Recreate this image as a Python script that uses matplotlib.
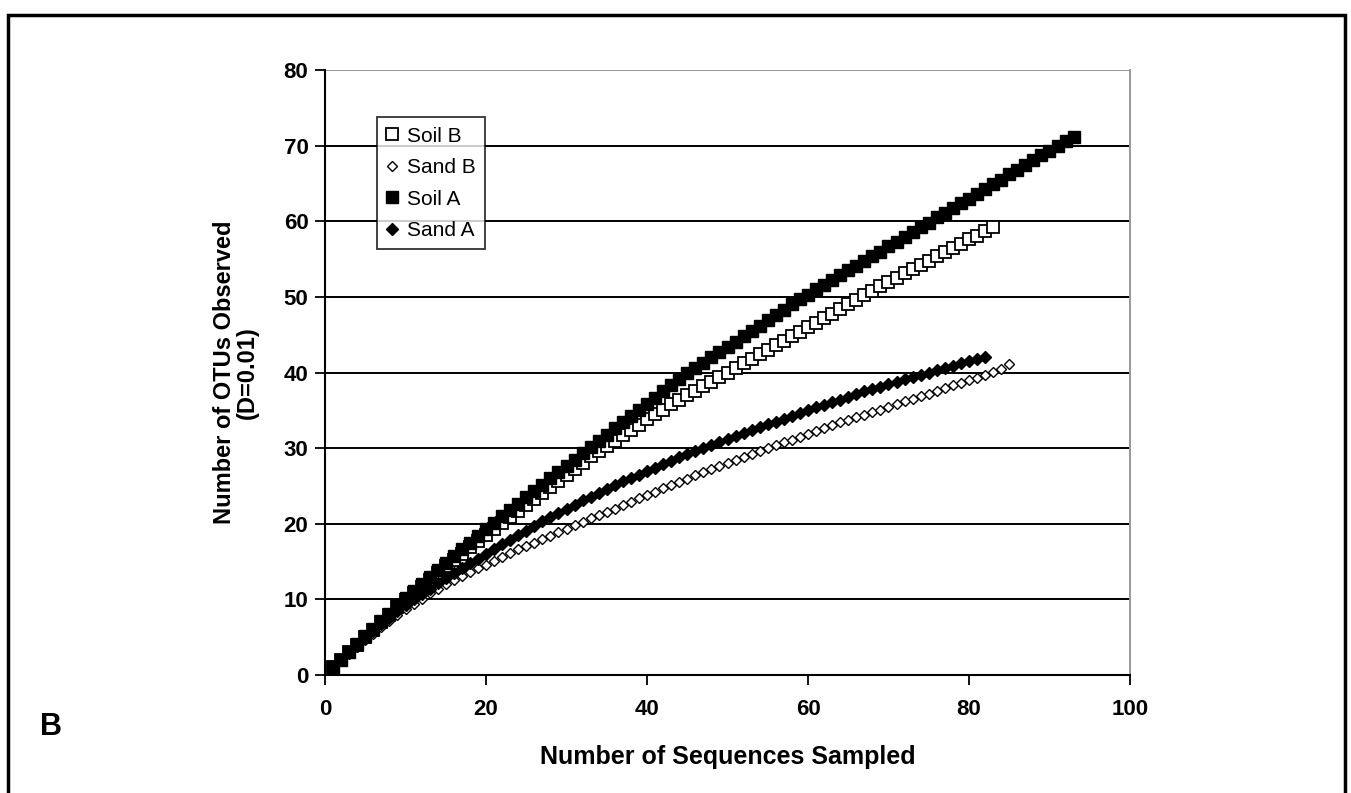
import matplotlib
matplotlib.use('Agg')
import matplotlib.pyplot as plt
from matplotlib.patches import Rectangle

plt.rcParams['font.family'] = ['Liberation Sans', 'DejaVu Sans']

soil_a = [1.0, 2.0, 3.0, 4.1, 5.1, 6.1, 7.1, 8.1, 9.2, 10.2,
          11.1, 12.0, 13.0, 13.9, 14.8, 15.7, 16.6, 17.5, 18.4, 19.3,
          20.1, 21.0, 21.8, 22.6, 23.5, 24.3, 25.1, 26.0, 26.8, 27.6,
          28.4, 29.3, 30.1, 30.9, 31.7, 32.6, 33.4, 34.2, 35.0, 35.8,
          36.6, 37.5, 38.3, 39.1, 39.9, 40.6, 41.3, 42.0, 42.7, 43.4,
          44.1, 44.8, 45.5, 46.2, 46.9, 47.6, 48.3, 49.0, 49.7, 50.3,
          51.0, 51.6, 52.2, 52.9, 53.5, 54.1, 54.8, 55.4, 56.0, 56.7,
          57.3, 57.9, 58.6, 59.2, 59.8, 60.5, 61.1, 61.7, 62.4, 63.0,
          63.6, 64.3, 64.9, 65.5, 66.2, 66.8, 67.4, 68.1, 68.7, 69.3,
          70.0, 70.6, 71.2]
soil_b = [1.0, 2.0, 3.0, 4.0, 5.0, 6.0, 7.0, 8.0, 9.0, 9.9,
          10.8, 11.7, 12.6, 13.5, 14.4, 15.2, 16.0, 16.9, 17.7, 18.5,
          19.3, 20.1, 20.9, 21.7, 22.5, 23.3, 24.1, 24.9, 25.7, 26.5,
          27.3, 28.1, 28.9, 29.6, 30.3, 31.0, 31.7, 32.4, 33.1, 33.8,
          34.5, 35.1, 35.8, 36.4, 37.0, 37.6, 38.2, 38.8, 39.4, 40.0,
          40.6, 41.2, 41.8, 42.4, 43.0, 43.6, 44.2, 44.8, 45.4, 46.0,
          46.6, 47.2, 47.8, 48.4, 49.0, 49.6, 50.2, 50.8, 51.4, 52.0,
          52.5, 53.1, 53.7, 54.2, 54.8, 55.4, 55.9, 56.5, 57.0, 57.6,
          58.1, 58.7, 59.2]
sand_a = [1.0, 2.0, 3.0, 3.9, 4.9, 5.8, 6.7, 7.5, 8.4, 9.2,
          10.0, 10.7, 11.4, 12.1, 12.8, 13.5, 14.1, 14.8, 15.4, 16.0,
          16.6, 17.3, 17.9, 18.5, 19.1, 19.7, 20.3, 20.9, 21.4, 22.0,
          22.5, 23.1, 23.6, 24.1, 24.6, 25.1, 25.6, 26.0, 26.5, 27.0,
          27.4, 27.9, 28.3, 28.8, 29.2, 29.6, 30.0, 30.4, 30.8, 31.2,
          31.6, 32.0, 32.4, 32.8, 33.2, 33.5, 33.9, 34.3, 34.6, 35.0,
          35.4, 35.7, 36.1, 36.4, 36.8, 37.1, 37.5, 37.8, 38.1, 38.5,
          38.8, 39.1, 39.4, 39.7, 40.0, 40.3, 40.6, 40.9, 41.2, 41.5,
          41.8, 42.1]
sand_b = [1.0, 1.9, 2.8, 3.7, 4.6, 5.4, 6.3, 7.1, 7.9, 8.7,
          9.4, 10.1, 10.8, 11.4, 12.0, 12.6, 13.1, 13.6, 14.1, 14.6,
          15.1, 15.6, 16.1, 16.6, 17.0, 17.5, 18.0, 18.4, 18.9, 19.3,
          19.8, 20.2, 20.7, 21.1, 21.6, 22.0, 22.5, 22.9, 23.4, 23.8,
          24.2, 24.7, 25.1, 25.5, 25.9, 26.4, 26.8, 27.2, 27.6, 28.0,
          28.4, 28.8, 29.2, 29.6, 30.0, 30.4, 30.8, 31.1, 31.5, 31.9,
          32.3, 32.6, 33.0, 33.4, 33.7, 34.1, 34.4, 34.8, 35.1, 35.5,
          35.8, 36.2, 36.5, 36.9, 37.2, 37.6, 37.9, 38.3, 38.6, 39.0,
          39.3, 39.7, 40.1, 40.5, 41.1]

x_ticks = [0, 20, 40, 60, 80, 100]
y_ticks = [0, 10, 20, 30, 40, 50, 60, 70, 80]

fig = plt.figure(figsize=(13.51, 7.93), dpi=100)
ax = fig.add_axes([0.2406, 0.1488, 0.5958, 0.7629])

for y in y_ticks[1:-1]:
    ax.axhline(y, color='black', lw=1.4, zorder=1)
ax.axhline(80, color='#999999', lw=1.4, zorder=1)

ax.plot(range(1, len(soil_b) + 1), soil_b, ls='none', marker='s', ms=8,
        mfc='white', mec='black', mew=1.3, label='Soil B', zorder=3)
ax.plot(range(1, len(sand_b) + 1), sand_b, ls='none', marker='D', ms=5.5,
        mfc='white', mec='black', mew=1.0, label='Sand B', zorder=3)
ax.plot(range(1, len(soil_a) + 1), soil_a, ls='none', marker='s', ms=8.5,
        mfc='black', mec='black', label='Soil A', zorder=4)
ax.plot(range(1, len(sand_a) + 1), sand_a, ls='none', marker='D', ms=6,
        mfc='black', mec='black', label='Sand A', zorder=4)

ax.set_xlim(0, 100)
ax.set_ylim(0, 80)
ax.set_xticks(x_ticks)
ax.set_yticks(y_ticks)
ax.tick_params(direction='out', length=7, width=1.3, labelsize=16, pad=5)
for lab in ax.get_xticklabels() + ax.get_yticklabels():
    lab.set_fontweight('bold')
ax.tick_params(axis='x', pad=10)

ax.spines['left'].set_linewidth(1.5)
ax.spines['bottom'].set_linewidth(1.5)
ax.spines['right'].set_color('#999999')
ax.spines['right'].set_linewidth(1.4)
ax.spines['top'].set_visible(False)

ax.set_xlabel('Number of Sequences Sampled', fontsize=18, fontweight='bold', labelpad=18)
ax.set_ylabel('Number of OTUs Observed\n(D=0.01)', fontsize=17, fontweight='bold', labelpad=18,
              linespacing=1.0)

leg = ax.legend(loc='upper left', bbox_to_anchor=(0.064, 0.922), fontsize=15,
                frameon=True, fancybox=False, edgecolor='black', handlelength=0.6,
                handletextpad=0.4, borderpad=0.45, labelspacing=0.6, borderaxespad=0)
leg.get_frame().set_linewidth(1.3)

fig.text(40 / 1351, 1 - 727 / 793, 'B', fontsize=22, fontweight='bold', va='center', ha='left')

fig.patches.append(Rectangle((8 / 1351, -0.02), (1345 - 8) / 1351, 1 - 15 / 793 + 0.02,
                             transform=fig.transFigure, fill=False, ec='black', lw=2.5))

fig.savefig('out.png', dpi=100)
